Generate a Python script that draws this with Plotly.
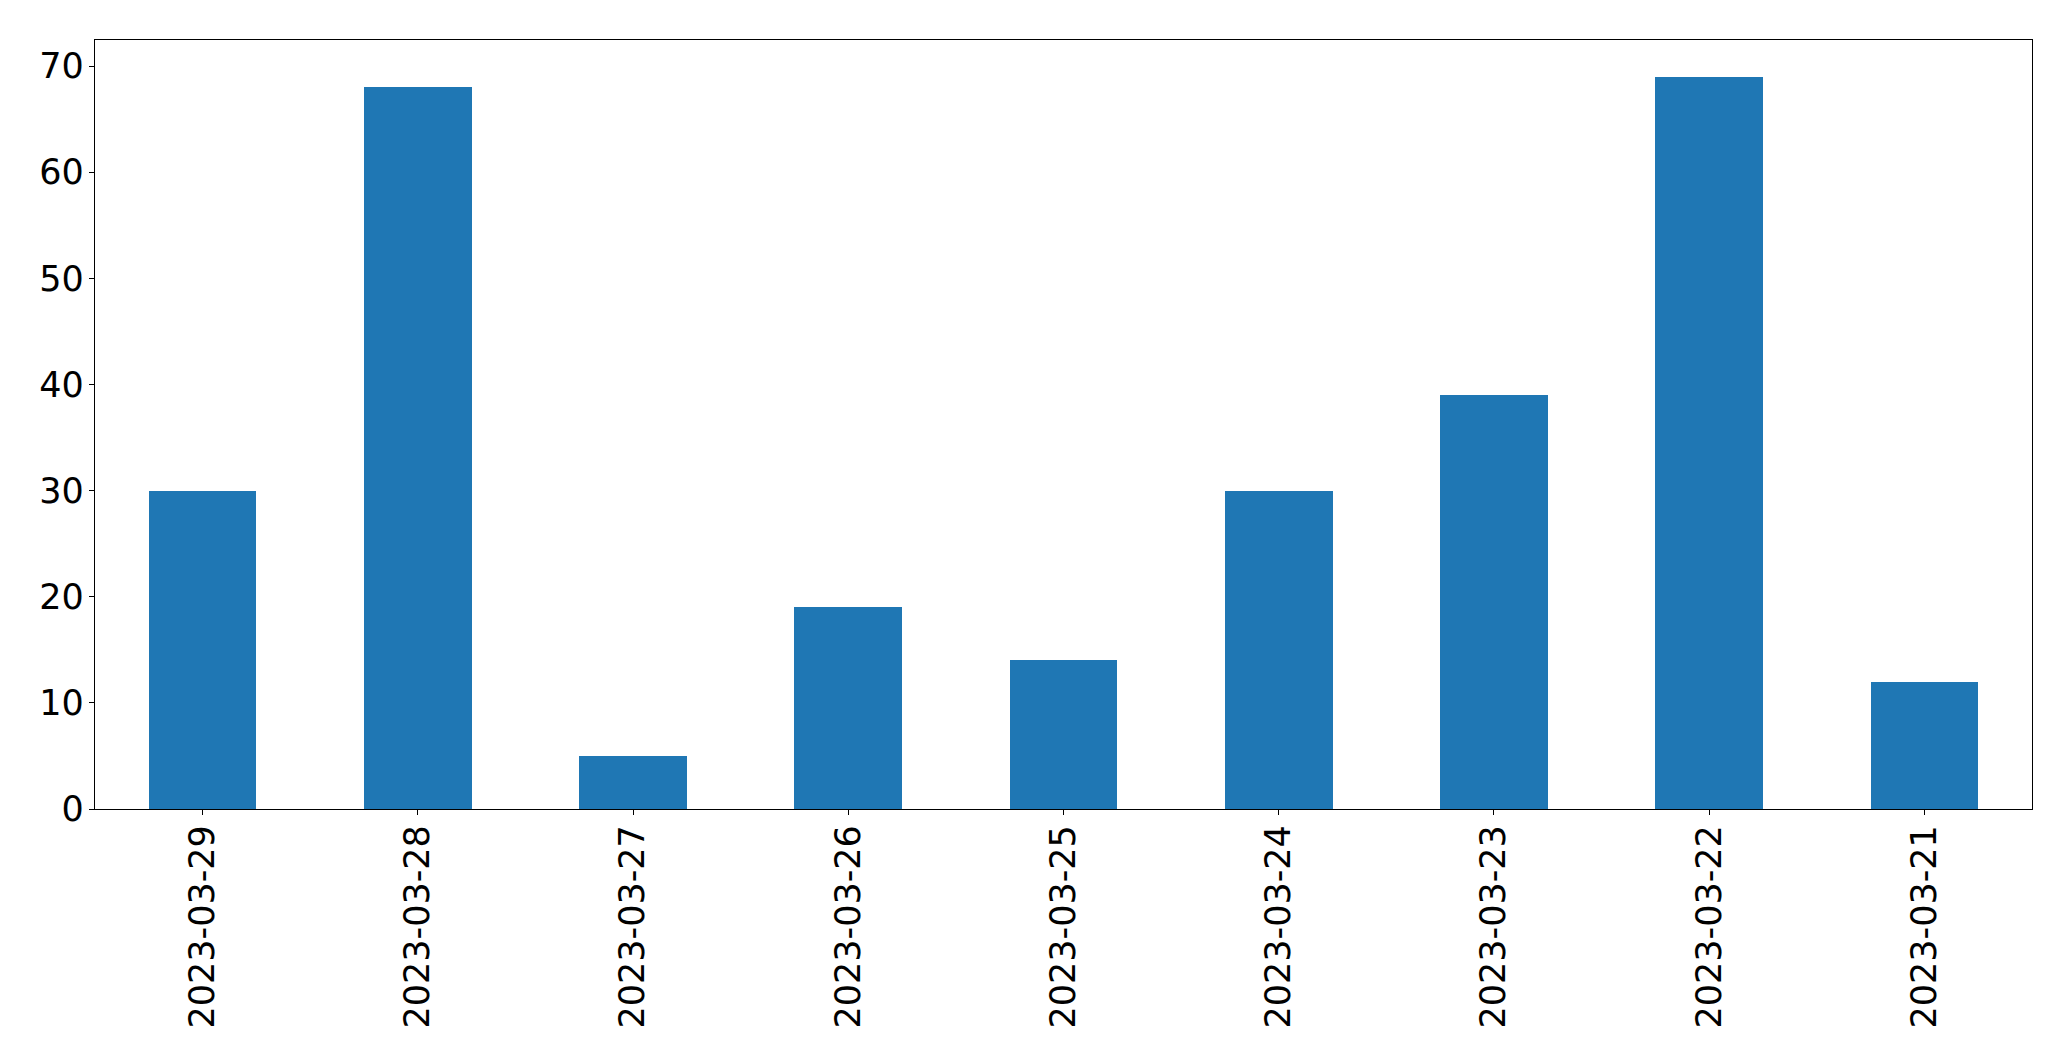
import plotly.graph_objects as go

dates = ["2023-03-29", "2023-03-28", "2023-03-27", "2023-03-26", "2023-03-25",
         "2023-03-24", "2023-03-23", "2023-03-22", "2023-03-21"]
counts = [30, 68, 5, 19, 14, 30, 39, 69, 12]
y_ticks = [0, 10, 20, 30, 40, 50, 60, 70]

fig = go.Figure(go.Bar(x=dates, y=counts, width=0.5, marker=dict(color="#1f77b4", line=dict(width=0))))

fig.update_layout(
    width=2063, height=1053,
    margin=dict(l=87, r=39, t=32, b=252, autoexpand=False),
    paper_bgcolor="white", plot_bgcolor="white",
    font=dict(family="DejaVu Sans", size=35, color="black"),
    showlegend=False,
    bargap=0,
)
fig.update_xaxes(
    type="category", range=[-0.5, 8.5],
    showline=True, mirror=True, linecolor="black", linewidth=1.3,
    ticks="outside", ticklen=5, tickwidth=1.3, tickcolor="black",
    tickangle=-90, showgrid=False, zeroline=False,
    ticklabelstandoff=-4,
)
fig.update_yaxes(
    range=[0, 72.45], tickvals=y_ticks,
    showline=True, mirror=True, linecolor="black", linewidth=1.3,
    ticks="outside", ticklen=5, tickwidth=1.3, tickcolor="black",
    showgrid=False, zeroline=False,
    ticklabelstandoff=-2,
)

fig.write_html("out.html")
